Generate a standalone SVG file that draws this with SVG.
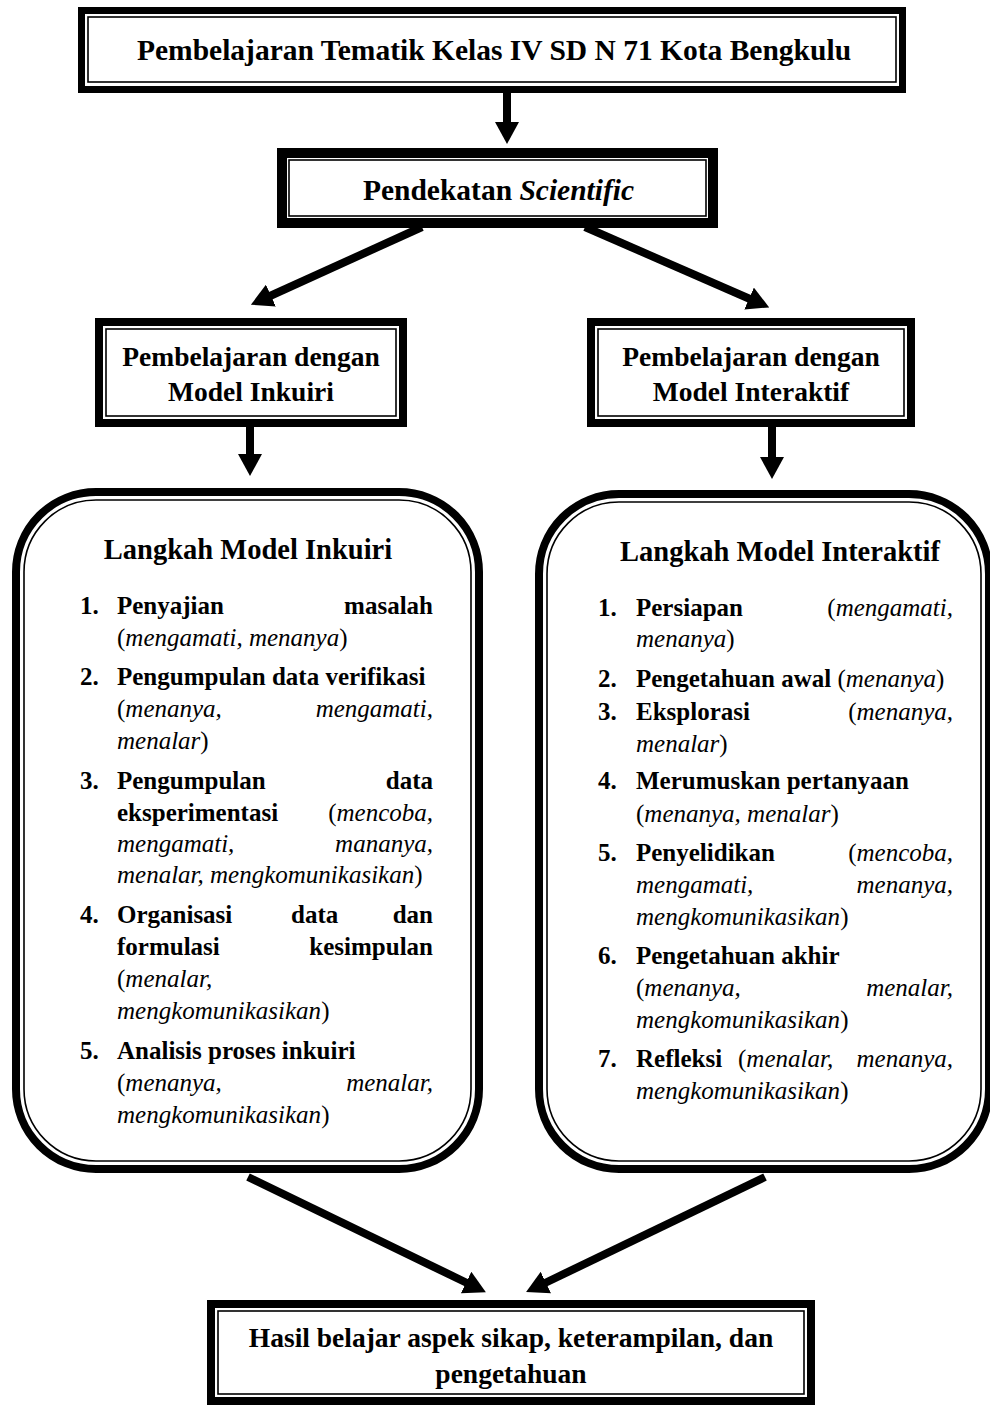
<svg xmlns="http://www.w3.org/2000/svg" width="990" height="1408" viewBox="0 0 990 1408">
<defs>
<style>
.thick{fill:none;stroke:#000;}
.thin{fill:none;stroke:#000;stroke-width:1.6;}
.h{font-family:"Liberation Serif","Times New Roman",serif;font-weight:bold;font-size:29.5px;fill:#000;text-anchor:middle;}
.hm{font-size:27.5px;}
.hl{font-size:28.5px;}
.b{font-family:"Liberation Serif","Times New Roman",serif;font-size:25px;fill:#000;}
.bb{font-weight:bold;}
.i{font-style:italic;}
.r{text-anchor:end;}
.conn{stroke:#000;stroke-width:8;fill:none;}
</style>
<marker id="ah" viewBox="0 0 22 24" refX="1" refY="12" markerWidth="22" markerHeight="24" markerUnits="userSpaceOnUse" orient="auto">
<path d="M0,0 L22,12 L0,24 Z" fill="#000"/>
</marker>
</defs>
<rect width="990" height="1408" fill="#fff"/>

<g id="connectors">
<line class="conn" x1="507" y1="93" x2="507" y2="123" marker-end="url(#ah)"/>
<line class="conn" x1="422" y1="227" x2="270" y2="296" marker-end="url(#ah)"/>
<line class="conn" x1="585" y1="227" x2="750" y2="299" marker-end="url(#ah)"/>
<line class="conn" x1="250" y1="425" x2="250" y2="455" marker-end="url(#ah)"/>
<line class="conn" x1="772" y1="425" x2="772" y2="458" marker-end="url(#ah)"/>
<line class="conn" x1="248" y1="1177" x2="467" y2="1283" marker-end="url(#ah)"/>
<line class="conn" x1="765" y1="1177" x2="545" y2="1283" marker-end="url(#ah)"/>
</g>

<g id="node-top">
<rect class="thick" x="81.5" y="10.5" width="821" height="79" stroke-width="7"/>
<rect class="thin" x="88" y="17" width="808" height="65"/>
<text class="h" x="494" y="60">Pembelajaran Tematik Kelas IV SD N 71 Kota Bengkulu</text>
</g>

<g id="node-scientific">
<rect class="thick" x="282" y="153" width="431" height="70" stroke-width="10"/>
<rect class="thin" x="289" y="160" width="417" height="56"/>
<text class="h" x="498.5" y="200">Pendekatan <tspan class="i">Scientific</tspan></text>
</g>

<g id="node-inkuiri">
<rect class="thick" x="99" y="322" width="304" height="101" stroke-width="8"/>
<rect class="thin" x="106" y="329" width="290" height="87"/>
<text class="h hm" x="251" y="366">Pembelajaran dengan</text>
<text class="h hm" x="251" y="401">Model Inkuiri</text>
</g>

<g id="node-interaktif">
<rect class="thick" x="591" y="322" width="320" height="101" stroke-width="8"/>
<rect class="thin" x="598" y="329" width="306" height="87"/>
<text class="h hm" x="751" y="366">Pembelajaran dengan</text>
<text class="h hm" x="751" y="401">Model Interaktif</text>
</g>

<g id="node-langkah-inkuiri">
<rect class="thick" x="16" y="492" width="463" height="677" rx="80" stroke-width="8"/>
<rect class="thin" x="24" y="500" width="447" height="661" rx="72"/>
<text class="h hl" x="248" y="559">Langkah Model Inkuiri</text>
<g class="b">
<text class="bb" x="80" y="614">1.</text>
<text class="bb" x="117" y="614">Penyajian</text>
<text class="bb r" x="433" y="614">masalah</text>
<text x="117" y="646">(<tspan class="i">mengamati, menanya</tspan>)</text>
<text class="bb" x="80" y="685">2.</text>
<text class="bb" x="117" y="685">Pengumpulan data verifikasi</text>
<text x="117" y="717">(<tspan class="i">menanya,</tspan></text>
<text class="i r" x="433" y="717">mengamati,</text>
<text x="117" y="749"><tspan class="i">menalar</tspan>)</text>
<text class="bb" x="80" y="789">3.</text>
<text class="bb" x="117" y="789">Pengumpulan</text>
<text class="bb r" x="433" y="789">data</text>
<text class="bb" x="117" y="821">eksperimentasi</text>
<text class="r" x="433" y="821">(<tspan class="i">mencoba,</tspan></text>
<text class="i" x="117" y="852">mengamati,</text>
<text class="i r" x="433" y="852">mananya,</text>
<text x="117" y="883"><tspan class="i">menalar, mengkomunikasikan</tspan>)</text>
<text class="bb" x="80" y="923">4.</text>
<text class="bb" x="117" y="923">Organisasi</text>
<text class="bb" x="291" y="923">data</text>
<text class="bb r" x="433" y="923">dan</text>
<text class="bb" x="117" y="955">formulasi</text>
<text class="bb r" x="433" y="955">kesimpulan</text>
<text x="117" y="987">(<tspan class="i">menalar,</tspan></text>
<text x="117" y="1019"><tspan class="i">mengkomunikasikan</tspan>)</text>
<text class="bb" x="80" y="1059">5.</text>
<text class="bb" x="117" y="1059">Analisis proses inkuiri</text>
<text x="117" y="1091">(<tspan class="i">menanya,</tspan></text>
<text class="i r" x="433" y="1091">menalar,</text>
<text x="117" y="1123"><tspan class="i">mengkomunikasikan</tspan>)</text>
</g>
</g>

<g id="node-langkah-interaktif">
<rect class="thick" x="539" y="494" width="450" height="675" rx="80" stroke-width="8"/>
<rect class="thin" x="547" y="502" width="434" height="659" rx="72"/>
<text class="h hl" x="780" y="561">Langkah Model Interaktif</text>
<g class="b">
<text class="bb" x="598" y="616">1.</text>
<text class="bb" x="636" y="616">Persiapan</text>
<text class="r" x="953" y="616">(<tspan class="i">mengamati,</tspan></text>
<text x="636" y="647"><tspan class="i">menanya</tspan>)</text>
<text class="bb" x="598" y="687">2.</text>
<text x="636" y="687"><tspan class="bb">Pengetahuan awal</tspan> (<tspan class="i">menanya</tspan>)</text>
<text class="bb" x="598" y="720">3.</text>
<text class="bb" x="636" y="720">Eksplorasi</text>
<text class="r" x="953" y="720">(<tspan class="i">menanya,</tspan></text>
<text x="636" y="752"><tspan class="i">menalar</tspan>)</text>
<text class="bb" x="598" y="789">4.</text>
<text class="bb" x="636" y="789">Merumuskan pertanyaan</text>
<text x="636" y="822">(<tspan class="i">menanya, menalar</tspan>)</text>
<text class="bb" x="598" y="861">5.</text>
<text class="bb" x="636" y="861">Penyelidikan</text>
<text class="r" x="953" y="861">(<tspan class="i">mencoba,</tspan></text>
<text class="i" x="636" y="893">mengamati,</text>
<text class="i r" x="953" y="893">menanya,</text>
<text x="636" y="925"><tspan class="i">mengkomunikasikan</tspan>)</text>
<text class="bb" x="598" y="964">6.</text>
<text class="bb" x="636" y="964">Pengetahuan akhir</text>
<text x="636" y="996">(<tspan class="i">menanya,</tspan></text>
<text class="i r" x="953" y="996">menalar,</text>
<text x="636" y="1028"><tspan class="i">mengkomunikasikan</tspan>)</text>
<text class="bb" x="598" y="1067">7.</text>
<text class="bb" x="636" y="1067">Refleksi</text>
<text x="738" y="1067">(<tspan class="i">menalar,</tspan></text>
<text class="i r" x="953" y="1067">menanya,</text>
<text x="636" y="1099"><tspan class="i">mengkomunikasikan</tspan>)</text>
</g>
</g>

<g id="node-hasil">
<rect class="thick" x="211" y="1304" width="600" height="97" stroke-width="8"/>
<rect class="thin" x="218" y="1311" width="586" height="83"/>
<text class="h hm" x="511" y="1347">Hasil belajar aspek sikap, keterampilan, dan</text>
<text class="h hm" x="511" y="1383">pengetahuan</text>
</g>
</svg>
